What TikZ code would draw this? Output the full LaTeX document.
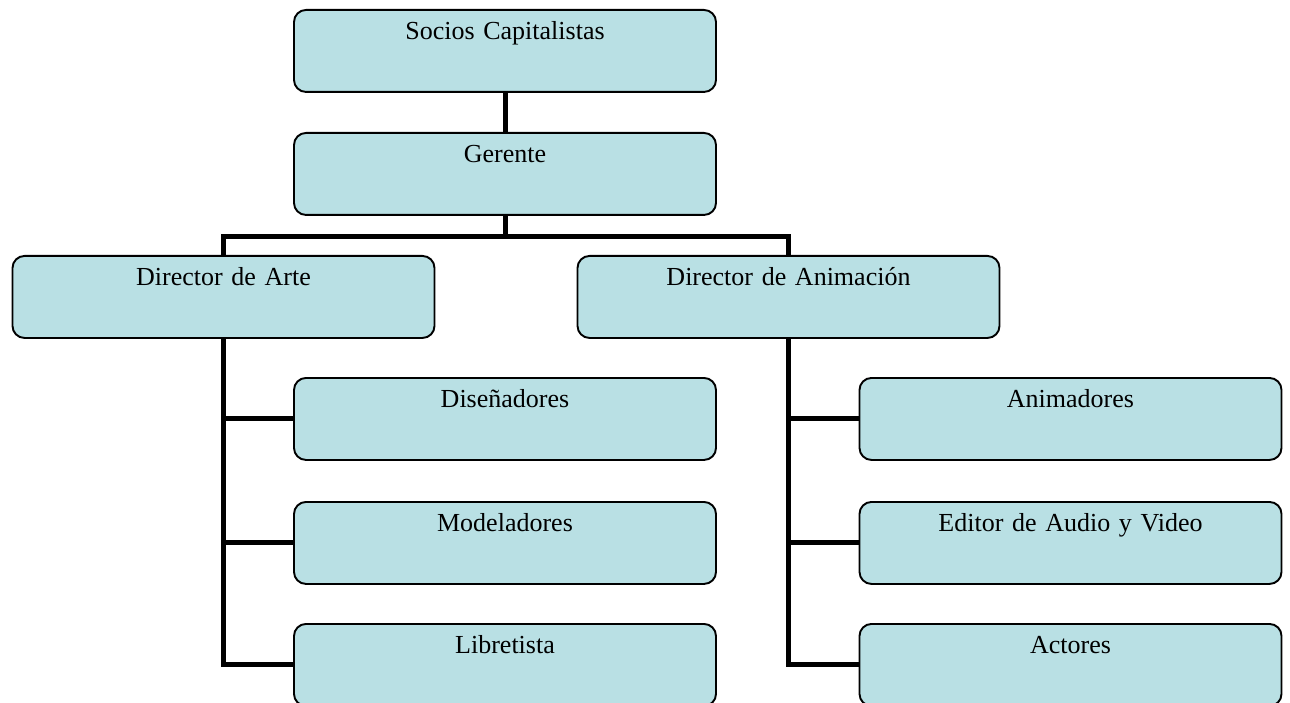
\documentclass[tikz,border=0pt]{standalone}
\usepackage{fontspec}
\setmainfont{Liberation Serif}
\definecolor{boxfill}{RGB}{185,224,228}
\begin{document}
\begin{tikzpicture}[x=1pt,y=-1pt,
  orgbox/.style={draw=black, fill=boxfill, line width=1.9pt, rounded corners=12pt,
    inner sep=0pt, text width=422pt, align=center, text height=30pt, text depth=52pt,
    anchor=north, font=\fontsize{26}{30}\selectfont},
  link/.style={draw=black, line width=5pt, line join=miter}]
\useasboundingbox (0,0) rectangle (1290,703);
\clip (0,0) rectangle (1290,703);
\node[orgbox] (socios) at (505,9) {Socios Capitalistas};
\node[orgbox] (gerente) at (505,132) {Gerente};
\node[orgbox] (darte) at (223.5,255) {Director de Arte};
\node[orgbox] (danim) at (788.5,255) {Director de Animación};
\node[orgbox] (dis) at (505,377) {Diseñadores};
\node[orgbox] (mod) at (505,501) {Modeladores};
\node[orgbox] (lib) at (505,623) {Libretista};
\node[orgbox] (ani) at (1070.5,377) {Animadores};
\node[orgbox] (edi) at (1070.5,501) {Editor de Audio y Video};
\node[orgbox] (act) at (1070.5,623) {Actores};
\coordinate (bus) at ([yshift=-21pt]gerente.south);
\draw[link] (socios.south) -- (gerente.north);
\draw[link] (darte.north) |- (bus) -| (danim.north);
\draw[link] (gerente.south) -- (bus);
\draw[link] (darte.south) |- (lib.west);
\draw[link] (darte.south |- dis.west) -- (dis.west);
\draw[link] (darte.south |- mod.west) -- (mod.west);
\draw[link] (danim.south) |- (act.west);
\draw[link] (danim.south |- ani.west) -- (ani.west);
\draw[link] (danim.south |- edi.west) -- (edi.west);
\end{tikzpicture}
\end{document}
